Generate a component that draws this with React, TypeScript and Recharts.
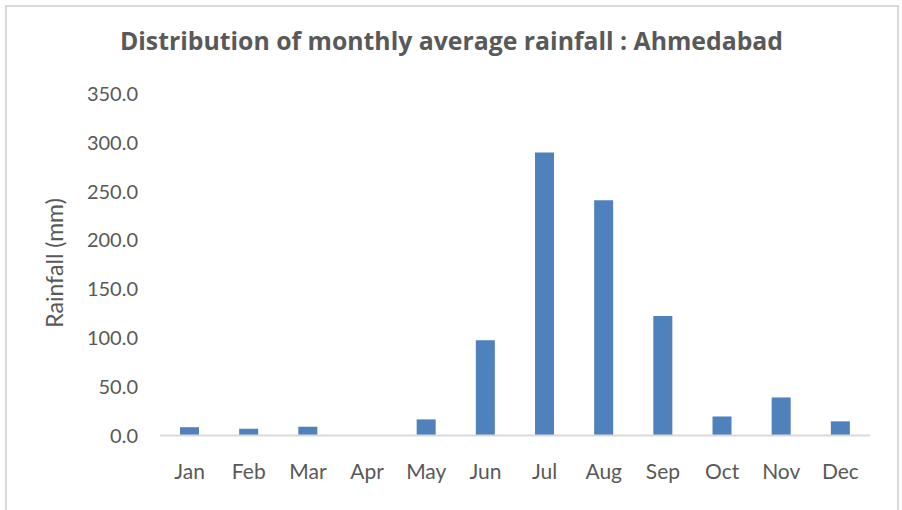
import React from "react";
import { BarChart, Bar, XAxis, YAxis, Label } from "recharts";

const months = ["Jan", "Feb", "Mar", "Apr", "May", "Jun", "Jul", "Aug", "Sep", "Oct", "Nov", "Dec"];
const rainfall = [8.5, 7.0, 9.0, 0.0, 16.5, 97.5, 290.0, 241.0, 122.5, 19.5, 39.0, 14.5];
const yTicks = [0, 50, 100, 150, 200, 250, 300, 350];

const data = months.map((m, i) => ({ month: m, rain: rainfall[i] }));

const FONT = "Lato, 'Open Sans', sans-serif";
const TITLE_FONT = "'Open Sans', Lato, sans-serif";
const TEXT = "#595959";

export default function App() {
  return (
    <div style={{ position: "absolute", left: 0, top: 0, width: 902, height: 510, background: "#fff", overflow: "hidden" }}>
      <div
        style={{
          position: "absolute",
          left: 5,
          top: 5,
          width: 890,
          height: 530,
          border: "2px solid #d9d9d9",
        }}
      />
      <div style={{ position: "absolute", left: 0, top: 0 }}>
        <BarChart width={902} height={510} data={data} margin={{ top: 94, right: 32, bottom: 20, left: 0 }}>
          <text
            x={451.5}
            y={50}
            textAnchor="middle"
            fontFamily={TITLE_FONT}
            fontWeight="bold"
            fontSize={24.8}
            fill={TEXT}
          >
            Distribution of monthly average rainfall : Ahmedabad
          </text>
          <XAxis
            dataKey="month"
            height={54.5}
            tickLine={false}
            tickSize={6}
            tickMargin={23}
            axisLine={{ stroke: "#d9d9d9", strokeWidth: 2 }}
            tick={{ fill: TEXT, fontSize: 21, fontFamily: FONT }}
            interval={0}
          />
          <YAxis
            width={160}
            domain={[0, 350]}
            ticks={yTicks}
            interval={0}
            axisLine={false}
            tickLine={false}
            tickSize={6}
            tickMargin={16}
            tickFormatter={(v: number) => v.toFixed(1)}
            tick={{ fill: TEXT, fontSize: 20, fontFamily: FONT }}
          >
            <Label
              value="Rainfall (mm)"
              angle={-90}
              position="insideLeft"
              offset={0}
              content={() => (
                <text
                  x={54}
                  y={263}
                  transform="rotate(-90 54 263)"
                  textAnchor="middle"
                  dominantBaseline="central"
                  fontFamily={FONT}
                  fontSize={23}
                  fill={TEXT}
                >
                  Rainfall (mm)
                </text>
              )}
            />
          </YAxis>
          <Bar dataKey="rain" fill="#4F81BD" barSize={19} isAnimationActive={false} />
        </BarChart>
      </div>
    </div>
  );
}
